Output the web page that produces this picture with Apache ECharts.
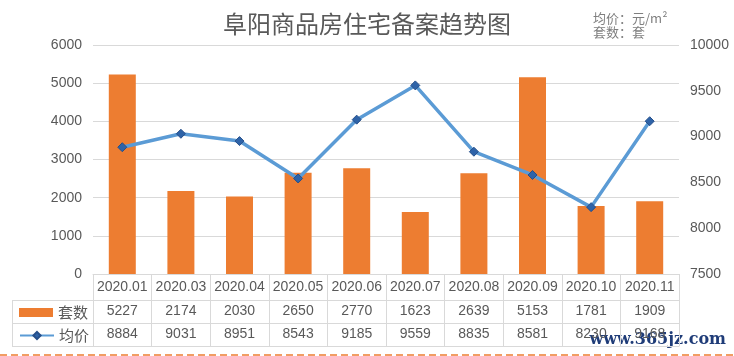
<!DOCTYPE html>
<html>
<head>
<meta charset="utf-8">
<script src="https://cdn.jsdelivr.net/npm/echarts@6/dist/echarts.min.js"></script>
<style>html,body{margin:0;padding:0;background:#fff}#c{width:734px;height:356px}</style>
</head>
<body>
<div id="c"></div>
<script>
var categories = ['2020.01','2020.03','2020.04','2020.05','2020.06','2020.07','2020.08','2020.09','2020.10','2020.11'];
var counts = [5227, 2174, 2030, 2650, 2770, 1623, 2639, 5153, 1781, 1909];
var prices = [8884, 9031, 8951, 8543, 9185, 9559, 8835, 8581, 8230, 9168];
var leftTicks = {min: 0, max: 6000, interval: 1000};
var rightTicks = {min: 7500, max: 10000, interval: 500};

var txt = '#595959', border = '#D9D9D9';
var numFont = 'Liberation Sans';
var chart = echarts.init(document.getElementById('c'), null, {renderer: 'canvas'});

function tableAxis(offset) {
  return {
    type: 'category', data: categories, position: 'bottom', offset: offset,
    axisLine: {show: true, lineStyle: {color: border, width: 1}},
    axisTick: {show: false}, axisLabel: {show: false}, splitLine: {show: false}
  };
}
function legendRow(item, top) {
  return {
    orient: 'horizontal', left: 14, top: top, itemWidth: 34, itemHeight: 9,
    textStyle: {fontFamily: 'Noto Sans CJK SC', fontSize: 15, color: txt},
    data: [item]
  };
}
function plain(v) { return String(v); }

chart.setOption({
  animation: false,
  title: {
    text: '阜阳商品房住宅备案趋势图', left: 'center', top: 7,
    textStyle: {fontFamily: 'Noto Sans CJK SC', fontSize: 24, fontWeight: 'normal', color: txt}
  },
  grid: {left: 93, right: 55, top: 45, bottom: 82},
  legend: [legendRow({name: '套数', icon: 'rect'}, 300), legendRow({name: '均价'}, 323)],
  xAxis: [
    {
      type: 'category', data: categories, position: 'bottom',
      axisLine: {show: true, lineStyle: {color: border}},
      axisTick: {show: true, length: 72, lineStyle: {color: border}},
      axisLabel: {
        margin: 0, interval: 0,
        formatter: function (v, i) {
          return '{a|' + categories[i] + '}\n{b|' + counts[i] + '}\n{b|' + prices[i] + '}';
        },
        rich: {
          a: {fontFamily: numFont, fontSize: 14, color: txt, lineHeight: 26},
          b: {fontFamily: numFont, fontSize: 14, color: txt, lineHeight: 23}
        }
      }
    },
    tableAxis(26), tableAxis(49), tableAxis(72)
  ],
  yAxis: [
    {
      type: 'value', min: leftTicks.min, max: leftTicks.max, interval: leftTicks.interval,
      axisLine: {show: false}, axisTick: {show: false},
      axisLabel: {margin: 11, fontFamily: numFont, fontSize: 14, color: txt, formatter: plain},
      splitLine: {lineStyle: {color: border}}
    },
    {
      type: 'value', min: rightTicks.min, max: rightTicks.max, interval: rightTicks.interval,
      axisLine: {show: false}, axisTick: {show: false},
      axisLabel: {margin: 11, fontFamily: numFont, fontSize: 14, color: txt, formatter: plain},
      splitLine: {show: false}
    }
  ],
  series: [
    {
      name: '套数', type: 'bar', data: counts, xAxisIndex: 0, yAxisIndex: 0,
      barWidth: 27, itemStyle: {color: '#ED7D31'}
    },
    {
      name: '均价', type: 'line', data: prices, xAxisIndex: 0, yAxisIndex: 1,
      lineStyle: {color: '#5B9BD5', width: 3.5},
      symbol: 'diamond', symbolSize: 9,
      itemStyle: {color: '#2E63A8', borderColor: '#264F8A', borderWidth: 1}
    }
  ],
  graphic: [
    {type: 'line', shape: {x1: 12, y1: 300.5, x2: 93, y2: 300.5}, style: {stroke: border, lineWidth: 1}},
    {type: 'line', shape: {x1: 12, y1: 323.5, x2: 93, y2: 323.5}, style: {stroke: border, lineWidth: 1}},
    {type: 'line', shape: {x1: 12, y1: 346.5, x2: 93, y2: 346.5}, style: {stroke: border, lineWidth: 1}},
    {type: 'line', shape: {x1: 12.5, y1: 300, x2: 12.5, y2: 347}, style: {stroke: border, lineWidth: 1}},
    {type: 'text', left: 593, top: 12, style: {text: '均价：元/m²', fontFamily: 'Noto Sans CJK SC', fontSize: 13, fill: '#7F7F7F'}},
    {type: 'text', left: 593, top: 26, style: {text: '套数：套', fontFamily: 'Noto Sans CJK SC', fontSize: 13, fill: '#7F7F7F'}},
    {type: 'text', right: 8, top: 332, style: {text: 'www.365jz.com', fontFamily: 'DejaVu Serif', fontWeight: 'bold', fontSize: 16, fill: '#1F3C78'}},
    {type: 'line', shape: {x1: 0, y1: 355, x2: 734, y2: 355}, style: {stroke: '#ED7D31', lineWidth: 1.5, lineDash: [7, 4]}}
  ]
});
</script>
</body>
</html>
